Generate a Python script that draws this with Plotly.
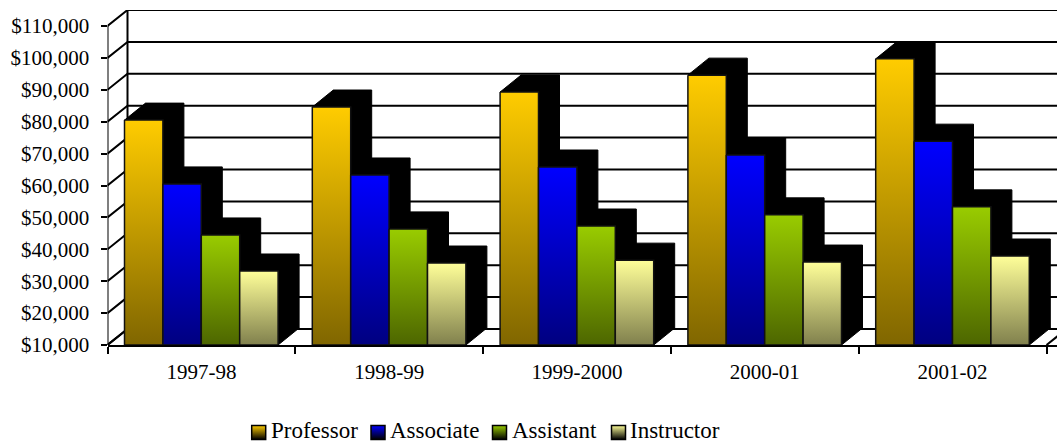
import plotly.graph_objects as go

categories = ["1997-98", "1998-99", "1999-2000", "2000-01", "2001-02"]
series_names = ["Professor", "Associate", "Assistant", "Instructor"]
professor = [80500, 84600, 89300, 94600, 99700]
associate = [60500, 63300, 65800, 69600, 73900]
assistant = [44500, 46400, 47300, 50800, 53300]
instructor = [33200, 35700, 36600, 36000, 37900]
y_ticks = [10000 * i for i in range(1, 12)]
y_labels = [f"${v:,}" for v in y_ticks]
top_colors = ["#FFCC00", "#0000FF", "#99CC00", "#FFFF99"]
bottom_colors = ["#806600", "#000080", "#4D6600", "#80804D"]
legend_swatch_x = [258.7, 378, 499.5, 618.5]
legend_text_x = [271, 390, 512, 630]

W, H = 1057, 442
X0, Y0, YTOP = 107.5, 345, 10
CAT_PX = 187.8
VAL_PX = 31.9 / 10000
x_max = (W - X0) / CAT_PX
y_min = 10000
y_max = y_min + (Y0 - YTOP) / VAL_PX
DX = 20 / CAT_PX          # wall depth in category units
DY = 16 / VAL_PX          # wall depth in value units
BDX = 21 / CAT_PX         # bar depth
BDY = 17 / VAL_PX
BAR_W = 38.4 / CAT_PX
GROUP_PAD = 17 / CAT_PX
FONT = "Liberation Serif"

fig = go.Figure()

# wall and floor frame
fx, fy = [], []
for v in y_ticks:
    fx += [0, DX, x_max, None]
    fy += [v, v + DY, v + DY, None]
fx += [DX, DX, None, 0, 0, None, 0, DX, None, 5, 5 + DX, None]
fy += [y_min + DY, y_ticks[-1] + DY, None, y_min, y_ticks[-1], None, y_min, y_min + DY, None, y_min, y_min + DY, None]
fig.add_trace(go.Scatter(x=fx, y=fy, mode="lines", line=dict(color="black", width=2),
                         cliponaxis=False, showlegend=False, hoverinfo="skip"))

all_values = [professor, associate, assistant, instructor]
for c in range(len(categories)):
    for s, vals in enumerate(all_values):
        x0 = c + GROUP_PAD + s * BAR_W
        x1 = x0 + BAR_W
        v = vals[c]
        fig.add_trace(go.Scatter(
            x=[x0, x0 + BDX, x1 + BDX, x1 + BDX, x1, x1, x0, x0],
            y=[v, v + BDY, v + BDY, y_min + BDY, y_min, v, v, v],
            mode="lines", fill="toself", fillcolor="black",
            line=dict(color="black", width=1), showlegend=False, hoverinfo="skip"))
        fig.add_trace(go.Scatter(
            x=[x0, x1, x1, x0, x0], y=[v, v, y_min, y_min, v],
            mode="lines", fill="toself",
            fillgradient=dict(type="vertical",
                              colorscale=[[0, bottom_colors[s]], [1, top_colors[s]]]),
            line=dict(color="#111111", width=1.5), name=series_names[s],
            showlegend=False, hovertemplate=series_names[s] + ": %{y:$,.0f}<extra></extra>"))

# legend, drawn on a full-figure axis pair so the swatches sit tight to the text
for s, name in enumerate(series_names):
    fig.add_trace(go.Scatter(
        x=[legend_swatch_x[s]], y=[432.5], xaxis="x2", yaxis="y2", mode="markers",
        marker=dict(symbol="square", size=14, color=top_colors[s],
                    gradient=dict(type="vertical", color="#000000"),
                    line=dict(color="black", width=1.5)),
        cliponaxis=False, showlegend=False, hoverinfo="skip"))
    fig.add_trace(go.Scatter(
        x=[legend_text_x[s]], y=[432], xaxis="x2", yaxis="y2", mode="text",
        text=[name], textposition="middle right",
        textfont=dict(family=FONT, size=23, color="black"),
        cliponaxis=False, showlegend=False, hoverinfo="skip"))

fig.update_layout(
    width=W, height=H, margin=dict(l=0, r=0, t=0, b=0), autosize=False,
    paper_bgcolor="white", plot_bgcolor="rgba(0,0,0,0)", showlegend=False,
    font=dict(family=FONT, size=21, color="black"),
    xaxis=dict(domain=[X0 / W, 1], range=[0, x_max], showgrid=False, zeroline=False,
               automargin=False,
               showline=True, linecolor="black", linewidth=2,
               tickvals=[i + 0.5 for i in range(5)], ticktext=categories,
               ticks="outside", ticklen=7, tickcolor="rgba(0,0,0,0)",
               minor=dict(tickvals=list(range(6)), ticks="outside", ticklen=7,
                          tickwidth=2, tickcolor="black")),
    yaxis=dict(domain=[(H - Y0) / H, 1 - YTOP / H], range=[y_min, y_max], showgrid=False,
               automargin=False,
               zeroline=False, showline=False, tickvals=y_ticks, ticktext=y_labels,
               ticks="outside", ticklen=6, tickwidth=2, tickcolor="black",
               ticklabelstandoff=7),
    xaxis2=dict(domain=[0, 1], range=[0, W], anchor="y2", visible=False, automargin=False),
    yaxis2=dict(domain=[0, 1], range=[H, 0], anchor="x2", visible=False, automargin=False),
)
fig.write_html("out.html", config={"displayModeBar": False},
               post_script="document.body.style.margin='0';document.documentElement.style.overflow='hidden';window.dispatchEvent(new Event('resize'));")
